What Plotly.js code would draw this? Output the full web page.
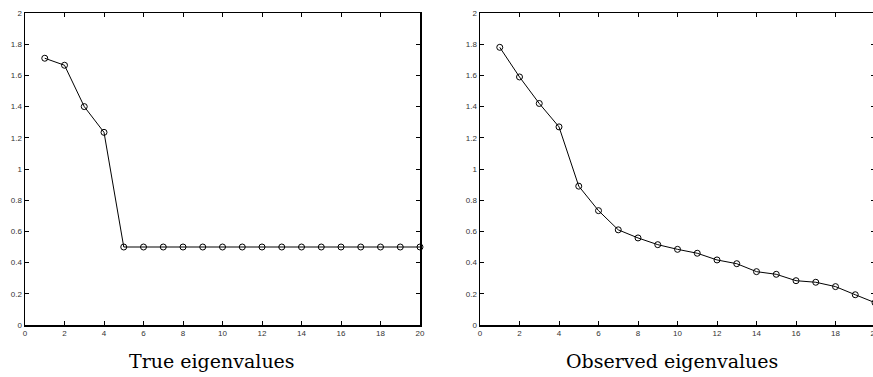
<!DOCTYPE html>
<html>
<head>
<meta charset="utf-8">
<script src="https://cdn.plot.ly/plotly-3.0.1.min.js"></script>
<style>
html,body{margin:0;padding:0;overflow:hidden;background:#fff;width:873px;height:377px;}
#chart{width:880px;height:377px;}
</style>
</head>
<body>
<div id="chart"></div>
<script>
const index = [1,2,3,4,5,6,7,8,9,10,11,12,13,14,15,16,17,18,19,20];
const trueEigenvalues = [1.71,1.665,1.40,1.235,0.5,0.5,0.5,0.5,0.5,0.5,0.5,0.5,0.5,0.5,0.5,0.5,0.5,0.5,0.5,0.5];
const observedEigenvalues = [1.78,1.59,1.42,1.27,0.89,0.733,0.61,0.558,0.515,0.485,0.46,0.417,0.393,0.342,0.325,0.284,0.274,0.246,0.194,0.143];
const titles = ["True eigenvalues","Observed eigenvalues"];

const lineStyle = {color:'#000', width:1};
const markerStyle = {symbol:'circle-open', size:6, color:'#000', line:{width:1, color:'#000'}};

const traces = [
  {x:index, y:trueEigenvalues, xaxis:'x', yaxis:'y', mode:'lines+markers', line:lineStyle, marker:markerStyle, cliponaxis:false, hoverinfo:'none'},
  {x:index, y:observedEigenvalues, xaxis:'x2', yaxis:'y2', mode:'lines+markers', line:lineStyle, marker:markerStyle, cliponaxis:false, hoverinfo:'none'}
];

const tickFont = {family:'Liberation Sans, Arial, sans-serif', size:8, color:'#333'};
function xa(domain, anchor){
  return {domain:domain, anchor:anchor, range:[0,20], dtick:2, tick0:0, ticks:'inside', ticklen:4, tickwidth:1, tickcolor:'#000',
    showline:true, linecolor:'#000', linewidth:1.5, mirror:'allticks', showgrid:false, zeroline:false, tickfont:tickFont, fixedrange:true};
}
function ya(anchor){
  return {anchor:anchor, range:[0,2], dtick:0.2, tick0:0, ticks:'inside', ticklen:4, tickwidth:1, tickcolor:'#000',
    showline:true, linecolor:'#000', linewidth:1.5, mirror:'allticks', showgrid:false, zeroline:false, tickfont:tickFont, fixedrange:true};
}

const W = 880, H = 377, mL = 25, mR = 5, mT = 13, mB = 52;
const pw = W - mL - mR, ph = H - mT - mB;
const d1 = [0, (420-25)/pw];
const d2 = [(480-25)/pw, 1];

const annFont = {family:'DejaVu Serif, Liberation Serif, serif', size:19, color:'#000'};
const layout = {
  width:W, height:H,
  margin:{l:mL, r:mR, t:mT, b:mB, pad:0},
  paper_bgcolor:'#fff', plot_bgcolor:'#fff',
  showlegend:false,
  xaxis: xa(d1,'y'),
  yaxis: ya('x'),
  xaxis2: xa(d2,'y2'),
  yaxis2: ya('x2'),
  annotations:[
    {text:titles[0], xref:'paper', yref:'paper', x:(212-mL)/pw, y:-(361-325)/ph, xanchor:'center', yanchor:'middle', showarrow:false, font:annFont},
    {text:titles[1], xref:'paper', yref:'paper', x:(672-mL)/pw, y:-(361-325)/ph, xanchor:'center', yanchor:'middle', showarrow:false, font:annFont}
  ]
};

Plotly.newPlot('chart', traces, layout, {staticPlot:true, displayModeBar:false});
</script>
</body>
</html>
